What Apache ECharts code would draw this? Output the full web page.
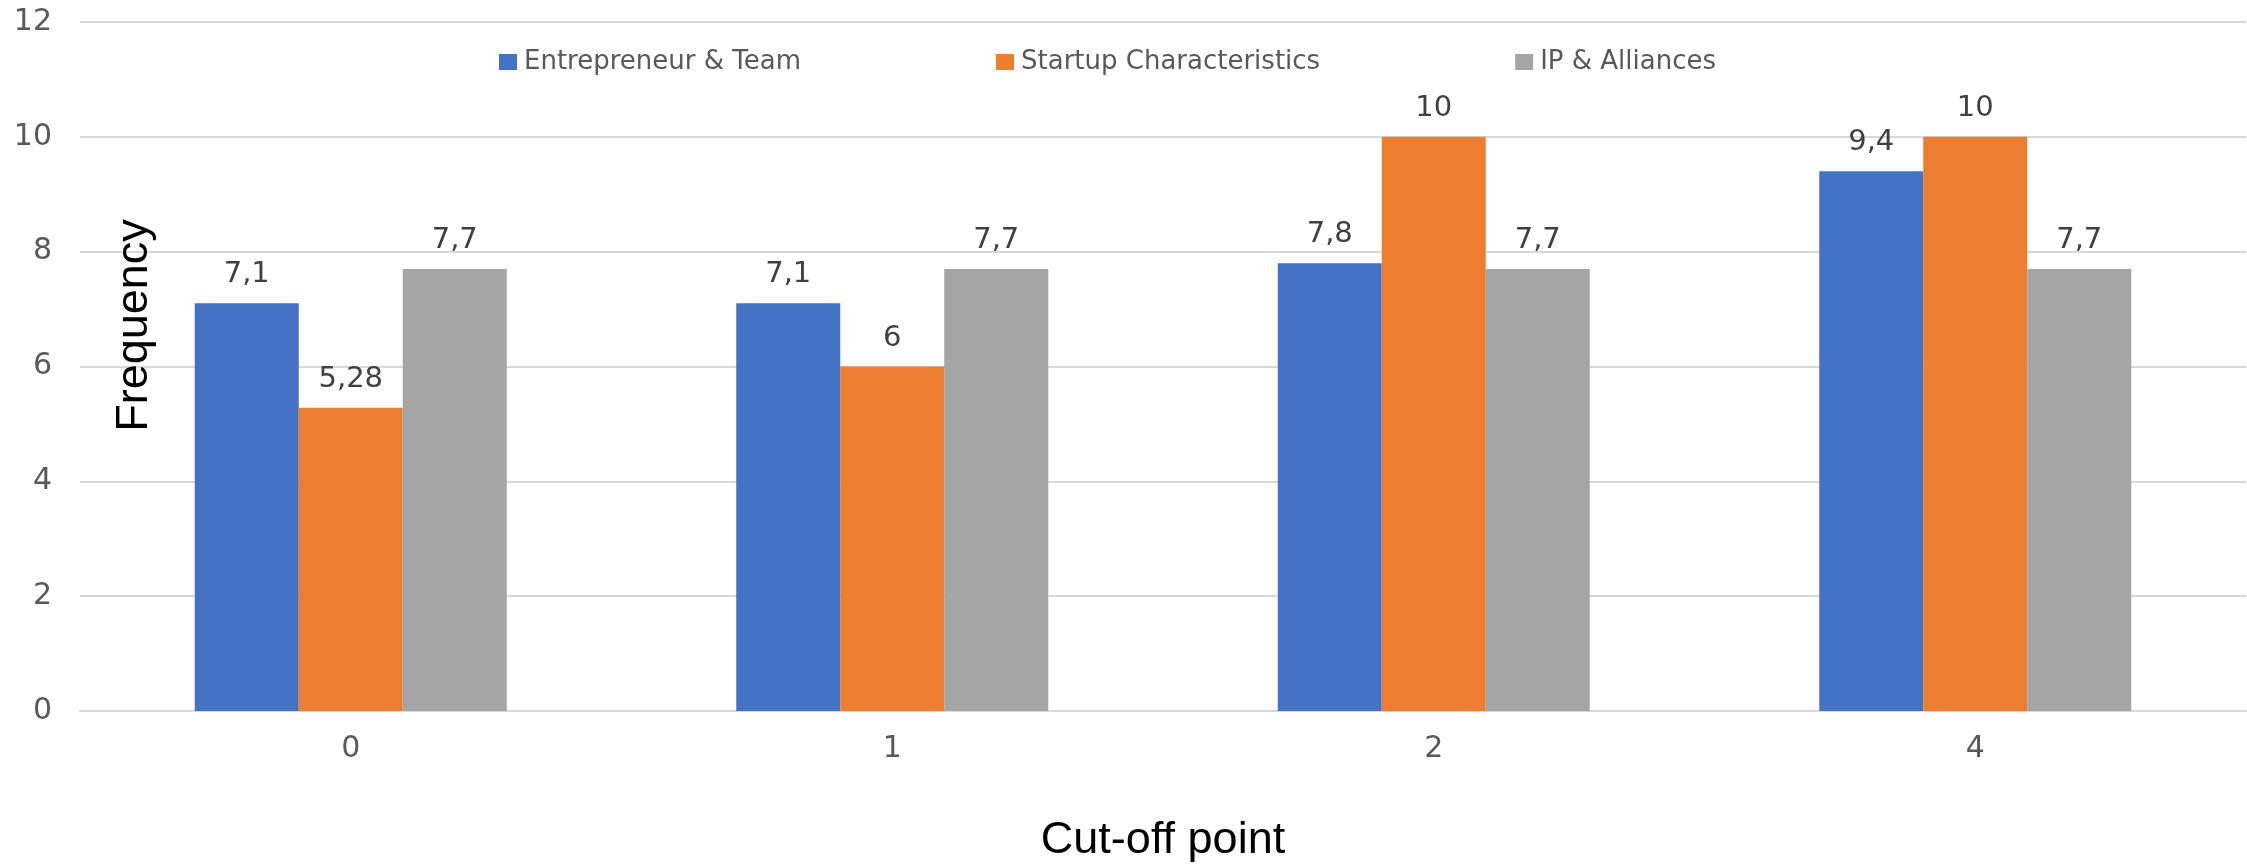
<!DOCTYPE html>
<html>
<head>
<meta charset="utf-8">
<title>Frequency by cut-off point</title>
<script src="https://cdn.jsdelivr.net/npm/echarts@6/dist/echarts.min.js"></script>
<style>
  html, body { margin: 0; padding: 0; background: #ffffff; }
  #chart { width: 2247px; height: 868px; }
</style>
</head>
<body>
<div id="chart"></div>
<script>
// Categories on the horizontal axis (cut-off points)
const cutoffs = ['0', '1', '2', '4'];

// Frequency per factor group
const seriesNames = ['Entrepreneur & Team', 'Startup Characteristics', 'IP & Alliances'];
const entrepreneurTeam = [7.1, 7.1, 7.8, 9.4];
const startupCharacteristics = [5.28, 6, 10, 10];
const ipAlliances = [7.7, 7.7, 7.7, 7.7];

const seriesColors = ['#4472C4', '#ED7D31', '#A5A5A5'];

// Value axis ticks
const yMin = 0;
const yMax = 12;
const yStep = 2;

const labelFont = 'DejaVu Sans';

// Decimal comma, as in the labels
function commaNumber(v) {
  return String(v).replace('.', ',');
}

function makeBar(name, values, color) {
  return {
    name: name,
    type: 'bar',
    data: values,
    barWidth: 104,
    barGap: '0%',
    itemStyle: { color: color },
    label: {
      show: true,
      position: 'top',
      distance: 14,
      color: '#404040',
      fontFamily: labelFont,
      fontSize: 29,
      formatter: p => commaNumber(p.value)
    }
  };
}

const chart = echarts.init(document.getElementById('chart'), null, { renderer: 'canvas' });

chart.setOption({
  animation: false,
  backgroundColor: '#ffffff',
  grid: { left: 80, right: 1, top: 22, bottom: 157, containLabel: false },
  legend: {
    data: seriesNames,
    left: 494,
    top: 44,
    itemWidth: 18,
    itemHeight: 16,
    itemGap: 195,
    icon: 'rect',
    textStyle: { color: '#595959', fontFamily: labelFont, fontSize: 26, padding: [0, 0, 0, 2] }
  },
  xAxis: {
    type: 'category',
    data: cutoffs,
    name: 'Cut-off point',
    nameLocation: 'middle',
    nameGap: 107,
    nameTextStyle: { color: '#000000', fontFamily: 'Liberation Sans', fontSize: 45 },
    axisLine: { show: true, lineStyle: { color: '#d9d9d9', width: 2 } },
    axisTick: { show: false },
    axisLabel: { color: '#595959', fontFamily: labelFont, fontSize: 30, margin: 23 }
  },
  yAxis: {
    type: 'value',
    min: yMin,
    max: yMax,
    interval: yStep,
    name: 'Frequency',
    nameLocation: 'middle',
    nameGap: -77,
    nameTextStyle: { color: '#000000', fontFamily: 'Liberation Sans', fontSize: 45, padding: [0, 0, 0, 82] },
    axisLine: { show: false },
    axisTick: { show: false },
    splitLine: { lineStyle: { color: '#d9d9d9', width: 2 } },
    axisLabel: { color: '#595959', fontFamily: labelFont, fontSize: 30, margin: 28 }
  },
  series: [
    makeBar(seriesNames[0], entrepreneurTeam, seriesColors[0]),
    makeBar(seriesNames[1], startupCharacteristics, seriesColors[1]),
    makeBar(seriesNames[2], ipAlliances, seriesColors[2])
  ]
});
</script>
</body>
</html>
